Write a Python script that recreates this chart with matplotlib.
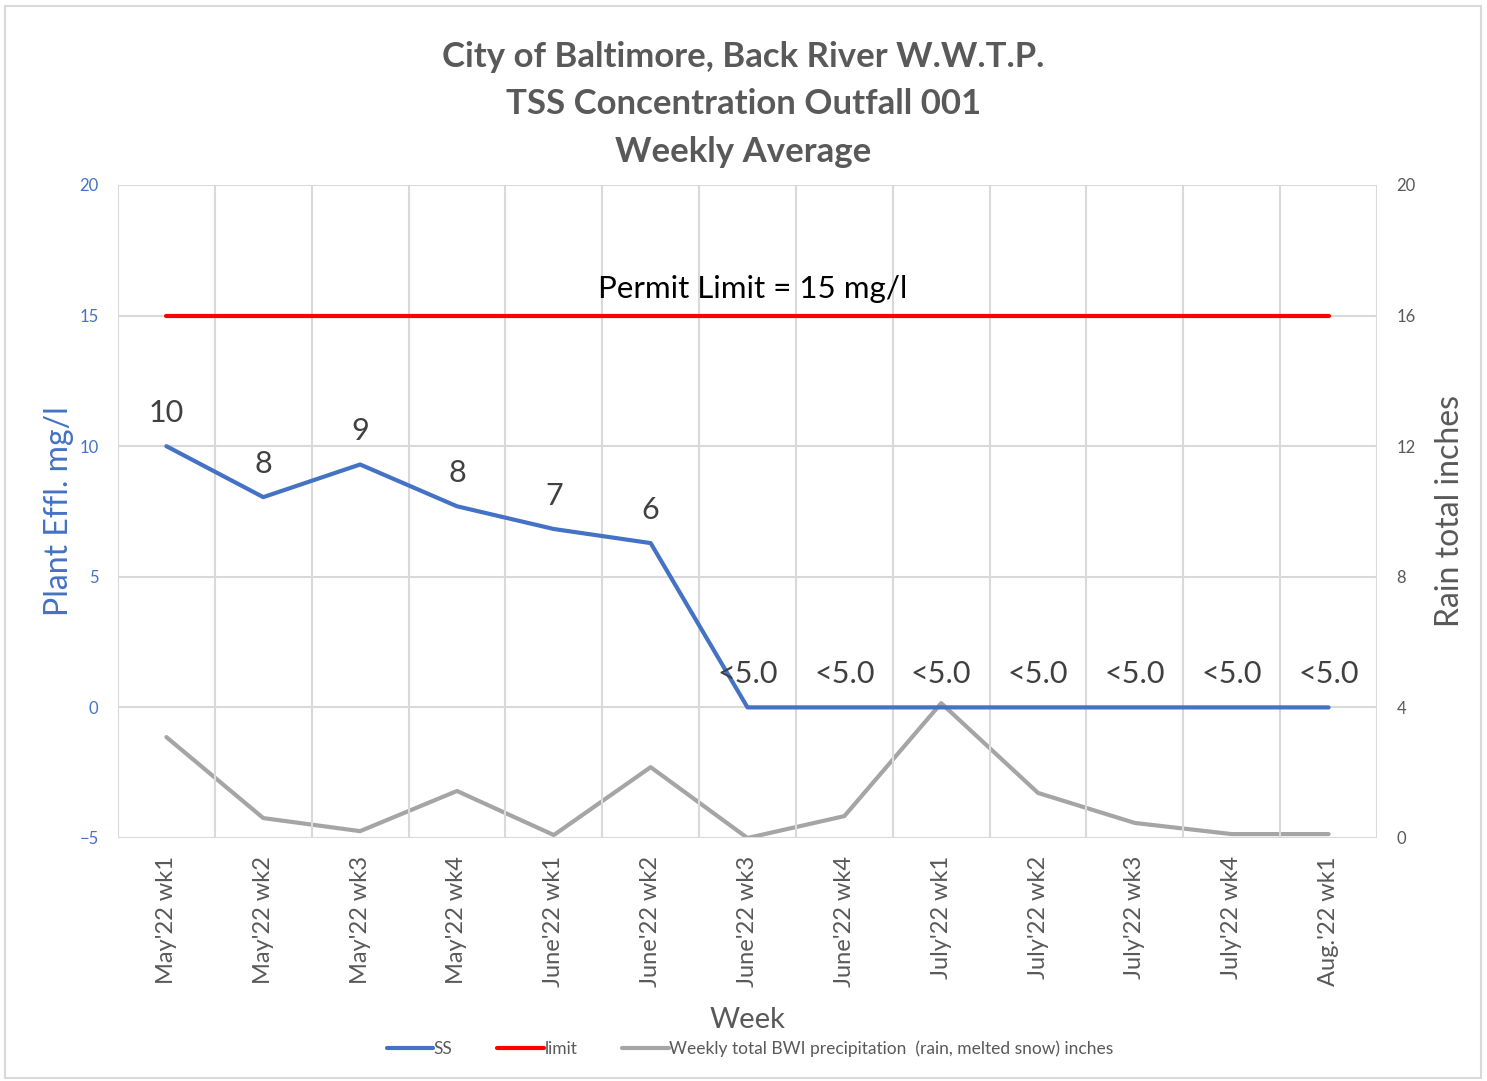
import matplotlib.pyplot as plt
import matplotlib.patches as patches

plt.rcParams['font.family'] = ['Lato', 'DejaVu Sans']

weeks = ["May'22 wk1", "May'22 wk2", "May'22 wk3", "May'22 wk4",
         "June'22 wk1", "June'22 wk2", "June'22 wk3", "June'22 wk4",
         "July'22 wk1", "July'22 wk2", "July'22 wk3", "July'22 wk4",
         "Aug.'22 wk1"]
ss = [10.0, 8.05, 9.3, 7.7, 6.83, 6.29, 0, 0, 0, 0, 0, 0, 0]
ss_labels = ["10", "8", "9", "8", "7", "6",
             "<5.0", "<5.0", "<5.0", "<5.0", "<5.0", "<5.0", "<5.0"]
limit = [15] * 13
rain = [3.09, 0.61, 0.21, 1.44, 0.09, 2.17, 0.0, 0.67, 4.13, 1.38, 0.46, 0.12, 0.12]

BLUE = '#4472C4'
RED = '#FF0000'
GRAY = '#A5A5A5'
TXT = '#595959'
GRID = '#D9D9D9'

fig = plt.figure(figsize=(14.87, 10.81), dpi=100)
ax = fig.add_axes([118 / 1487, 1 - 838 / 1081, (1377 - 118) / 1487, (838 - 185) / 1081])
ax2 = ax.twinx()

x = list(range(len(weeks)))

# left axis: SS + limit
l1, = ax.plot(x, ss, color=BLUE, lw=3, solid_capstyle='round', zorder=5)
l2, = ax.plot(x, limit, color=RED, lw=3, solid_capstyle='round', zorder=5)
for xi, yi, lab in zip(x, ss, ss_labels):
    ax.annotate(lab, (xi, yi), xytext=(0, 24), textcoords='offset points',
                ha='center', va='center', fontsize=22, color='#404040', zorder=6)
ax.text(6.05, 16.0, 'Permit Limit = 15 mg/l', ha='center', va='center',
        fontsize=22.5, color='black', zorder=6)

# right axis: rain
l3, = ax2.plot(x, rain, color=GRAY, lw=3, solid_capstyle='round', zorder=4)

ax.set_xlim(-0.5, len(weeks) - 0.5)
ax.set_ylim(-5, 20)
ax.set_yticks([-5, 0, 5, 10, 15, 20])
ax2.set_ylim(0, 20)
ax2.set_yticks([0, 4, 8, 12, 16, 20])

ax.set_xticks(x)
ax.set_xticklabels(weeks, rotation=90, fontsize=17, color=TXT)
ax.set_xticks([i - 0.5 for i in range(len(weeks) + 1)], minor=True)
ax.tick_params(axis='x', which='both', length=0, pad=13)
ax.tick_params(axis='y', length=0, labelsize=12, labelcolor=BLUE, pad=14)
ax2.tick_params(axis='y', length=0, labelsize=12, labelcolor=TXT, pad=14)

ax.grid(True, which='minor', axis='x', color=GRID, lw=1.5)
ax.grid(True, which='major', axis='y', color=GRID, lw=1.5)
ax.set_axisbelow(True)
for a in (ax, ax2):
    for s in a.spines.values():
        s.set_visible(False)
ax.set_zorder(ax2.get_zorder() + 1)
ax.patch.set_visible(False)

ax.set_ylabel('Plant Effl. mg/l', fontsize=23, color=BLUE, labelpad=4)
ax2.set_ylabel('Rain total inches', fontsize=23, color=TXT, labelpad=14)
ax.set_xlabel('Week', fontsize=21, color=TXT, labelpad=14)

fig.text(0.5, 1 - 57 / 1081, 'City of Baltimore, Back River W.W.T.P.', ha='center', va='center',
         fontsize=25, fontweight='bold', color=TXT)
fig.text(0.5, 1 - 104 / 1081, 'TSS Concentration Outfall 001', ha='center', va='center',
         fontsize=25, fontweight='bold', color=TXT)
fig.text(0.5, 1 - 152 / 1081, 'Weekly Average', ha='center', va='center',
         fontsize=25, fontweight='bold', color=TXT)

fig.legend([l1, l2, l3], ['SS', 'limit', 'Weekly total BWI precipitation  (rain, melted snow) inches'],
           loc='center', bbox_to_anchor=(750 / 1487, 1 - 1049 / 1081), ncol=3, frameon=False,
           fontsize=12.5, handlelength=2.7, handletextpad=0.0, columnspacing=2.6,
           labelcolor=TXT)

fig.patches.append(patches.Rectangle((5 / 1487, 3 / 1081), 1476 / 1487, 1072 / 1081,
                                     transform=fig.transFigure, fill=False,
                                     edgecolor=GRID, lw=1.5))

fig.savefig('out.png', dpi=100)
